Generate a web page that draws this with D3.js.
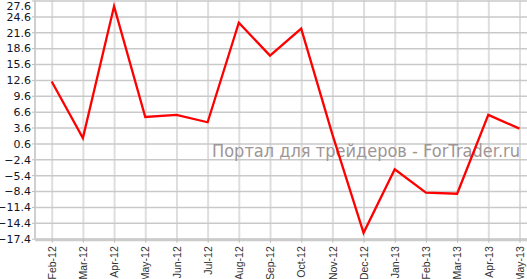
<!DOCTYPE html>
<html>
<head>
<meta charset="utf-8">
<script src="https://cdn.jsdelivr.net/npm/d3@7"></script>
<style>
  body { margin: 0; background: #fff; }
  svg { display: block; }
</style>
</head>
<body>
<div class="chart"></div>
<script>
const months = ["Feb-12", "Mar-12", "Apr-12", "May-12", "Jun-12", "Jul-12", "Aug-12", "Sep-12",
                "Oct-12", "Nov-12", "Dec-12", "Jan-13", "Feb-13", "Mar-13", "Apr-13", "May-13"];
const values = [12.3, 1.6, 26.5, 5.6, 6.0, 4.6, 23.4, 17.2, 22.3, 2.3, -16.3, -4.3, -8.7, -8.9, 6.0, 3.4];
const yTicks = [-17.4, -14.4, -11.4, -8.4, -5.4, -2.4, 0.6, 3.6, 6.6, 9.6, 12.6, 15.6, 18.6, 21.6, 24.6, 27.6];
const watermark = "Портал для трейдеров - ForTrader.ru";

const width = 527, height = 279;
const plotLeft = 35, plotBottom = 238.7, plotTop = 0.5;

const svg = d3.select(".chart")
    .append("svg")
    .attr("width", width)
    .attr("height", height);

const x = d3.scalePoint()
    .domain(months)
    .range([51.7, 519.5]);

const y = d3.scaleLinear()
    .domain([yTicks[0], yTicks[yTicks.length - 1]])
    .range([plotBottom, plotTop]);

// vertical grid
svg.append("g")
    .attr("transform", `translate(0, ${plotBottom})`)
    .call(d3.axisBottom(x).tickSize(-(plotBottom - plotTop)).tickFormat(""))
    .call(g => g.select(".domain").remove())
    .call(g => g.selectAll("line").attr("stroke", "#dedede").attr("stroke-width", 2));

// horizontal grid
svg.append("g")
    .attr("transform", `translate(${plotLeft}, 0)`)
    .call(d3.axisLeft(y).tickValues(yTicks).tickSize(-(width - plotLeft)).tickFormat(""))
    .call(g => g.select(".domain").remove())
    .call(g => g.selectAll("line").attr("stroke", "#c9c9c9").attr("stroke-width", 1.5));

// watermark
svg.append("text")
    .attr("x", 212)
    .attr("y", 156.5)
    .attr("font-family", "DejaVu Sans, sans-serif")
    .attr("font-size", "17.5px")
    .attr("fill", "#9e9595")
    .attr("textLength", 308)
    .attr("lengthAdjust", "spacingAndGlyphs")
    .text(watermark);

// y axis
const yAxis = svg.append("g")
    .attr("transform", `translate(${plotLeft}, 0)`)
    .call(d3.axisLeft(y).tickValues(yTicks).tickSize(3).tickPadding(1).tickFormat(d3.format(".1f")));
yAxis.select(".domain")
    .attr("stroke", "#cfcfcf")
    .attr("stroke-width", 2)
    .attr("d", `M0,${plotTop}V${plotBottom}`);
yAxis.selectAll(".tick line").attr("stroke", "#bbb");
yAxis.selectAll(".tick text")
    .attr("font-family", "DejaVu Sans, sans-serif")
    .attr("font-size", "11px")
    .attr("fill", "#141428")
    .attr("dy", "0.35em")
    .attr("y", d => Math.max(0, 6 - y(d)));

// x axis
const xAxis = svg.append("g")
    .attr("transform", `translate(0, ${plotBottom})`)
    .call(d3.axisBottom(x).tickSize(4).tickSizeOuter(0));
xAxis.select(".domain")
    .attr("stroke", "#cccccc")
    .attr("stroke-width", 3)
    .attr("d", `M${plotLeft},1H${width}`);
xAxis.selectAll(".tick line").attr("stroke", "#bbb");
xAxis.selectAll(".tick text")
    .attr("font-family", "Liberation Sans, Arial, sans-serif")
    .attr("font-size", "10.5px")
    .attr("fill", "#333")
    .attr("text-anchor", "end")
    .attr("transform", "translate(0, 7.5) rotate(-90)")
    .attr("x", 0)
    .attr("y", 0)
    .attr("dy", "0.35em");

// series line
const line = d3.line()
    .x((d, i) => x(months[i]))
    .y(d => y(d));

svg.append("path")
    .datum(values)
    .attr("fill", "none")
    .attr("stroke", "#ff0000")
    .attr("stroke-width", 2.3)
    .attr("stroke-linejoin", "miter")
    .attr("d", line);
</script>
</body>
</html>
